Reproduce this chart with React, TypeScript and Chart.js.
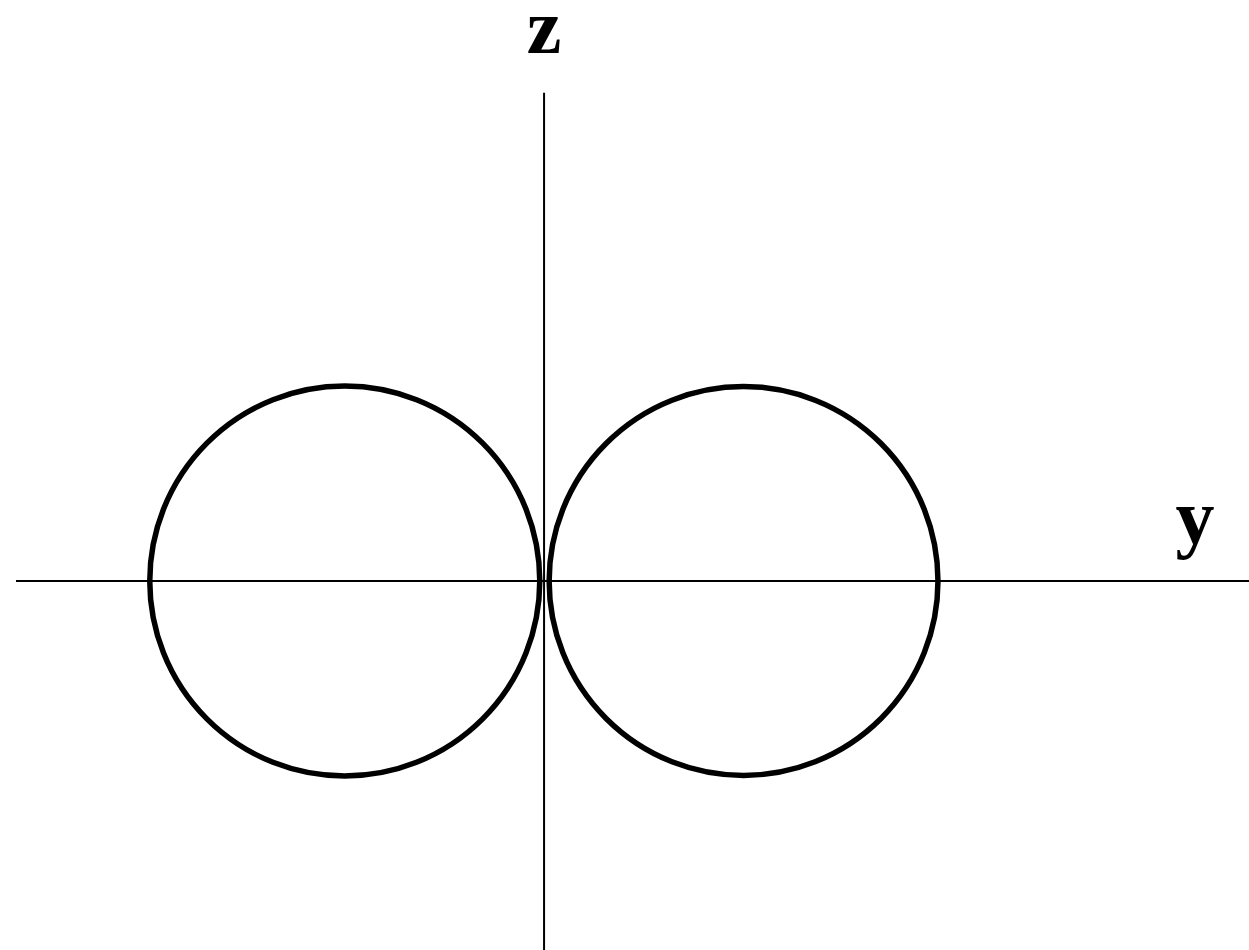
import React, { useEffect, useRef } from "react";
import { Chart, registerables } from "chart.js";

Chart.register(...registerables);

// Scale window (units: one lobe radius ≈ 1)
const xRange = [-2.79, 3.615];
const yRange = [-1.892, 2.979];

// Axis lines
const horizontalAxis = [
  { x: -2.708, y: 0 },
  { x: 3.615, y: 0 },
];
const verticalAxis = [
  { x: 0, y: 2.503 },
  { x: 0, y: -1.892 },
];

// Radiation lobes (circles): centre and radius
const lobeCentersX = [-1.022, 1.023];
const lobeCentersY = [0, 0];
const lobeRadii = [1.0, 0.997];

// Axis labels
const axisLabels = ["z", "y"];
const labelX = [0, 3.338];
const labelY = [2.708, 0.195];

const lobePlugin = {
  id: "lobes",
  afterDatasetsDraw(chart: any) {
    const { ctx, scales } = chart;
    const xs = scales.x;
    const ys = scales.y;
    ctx.save();
    ctx.strokeStyle = "#000";
    ctx.lineWidth = 5.5;
    for (let i = 0; i < lobeCentersX.length; i++) {
      const cx = xs.getPixelForValue(lobeCentersX[i]);
      const cy = ys.getPixelForValue(lobeCentersY[i]);
      const r = xs.getPixelForValue(lobeCentersX[i] + lobeRadii[i]) - cx;
      ctx.beginPath();
      ctx.arc(cx, cy, r, 0, Math.PI * 2);
      ctx.stroke();
    }
    ctx.fillStyle = "#000";
    ctx.font = "bold 78px 'Liberation Serif'";
    ctx.textAlign = "center";
    ctx.textBaseline = "alphabetic";
    for (let i = 0; i < axisLabels.length; i++) {
      ctx.fillText(
        axisLabels[i],
        xs.getPixelForValue(labelX[i]),
        ys.getPixelForValue(labelY[i])
      );
    }
    ctx.restore();
  },
};

export default function App() {
  const ref = useRef<HTMLCanvasElement | null>(null);
  useEffect(() => {
    if (!ref.current) return;
    const chart = new Chart(ref.current, {
      type: "scatter",
      data: {
        datasets: [
          {
            data: horizontalAxis,
            showLine: true,
            borderColor: "#000",
            borderWidth: 2,
            pointRadius: 0,
          },
          {
            data: verticalAxis,
            showLine: true,
            borderColor: "#000",
            borderWidth: 2,
            pointRadius: 0,
          },
        ],
      },
      options: {
        animation: false,
        responsive: false,
        devicePixelRatio: 1,
        layout: { padding: 0 },
        plugins: {
          legend: { display: false },
          tooltip: { enabled: false },
          title: { display: false },
        },
        scales: {
          x: {
            type: "linear",
            min: xRange[0],
            max: xRange[1],
            display: false,
          },
          y: {
            type: "linear",
            min: yRange[0],
            max: yRange[1],
            display: false,
          },
        },
      },
      plugins: [lobePlugin],
    });
    return () => chart.destroy();
  }, []);
  return (
    <div
      style={{
        position: "fixed",
        left: 0,
        top: 0,
        width: 1249,
        height: 950,
        background: "#fff",
      }}
    >
      <canvas ref={ref} width={1249} height={950} />
    </div>
  );
}
